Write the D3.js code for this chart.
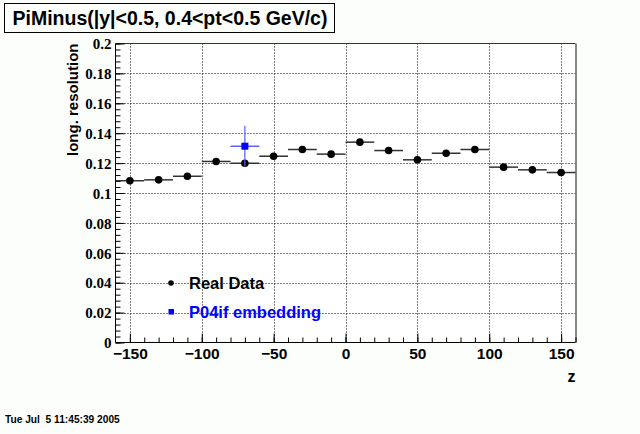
<!DOCTYPE html>
<html>
<head>
<meta charset="utf-8">
<script src="https://cdn.jsdelivr.net/npm/d3@7"></script>
<style>
  html, body { margin: 0; padding: 0; background: #fcfefc; }
  svg { display: block; }
</style>
</head>
<body>
<svg id="chart" width="640" height="434"></svg>
<script>
// ---- data ----
const zBins      = [-150, -130, -110, -90, -70, -50, -30, -10, 10, 30, 50, 70, 90, 110, 130, 150];
const realValues = [0.1082, 0.1088, 0.1112, 0.1211, 0.1199, 0.1246, 0.1291, 0.1260, 0.1340, 0.1284, 0.1222, 0.1266, 0.1291, 0.1173, 0.1155, 0.1137];
const realErrors = [0.0008, 0.0008, 0.0008, 0.0008, 0.0012, 0.0008, 0.0008, 0.0008, 0.0008, 0.0008, 0.0008, 0.0008, 0.0008, 0.0008, 0.0008, 0.0008];
const embZ       = [-70];
const embValues  = [0.1313];
const embErrors  = [0.0136];
const binHalfWidth = 10;
const xTickValues = [-150, -100, -50, 0, 50, 100, 150];
const yTickValues = [0, 0.02, 0.04, 0.06, 0.08, 0.1, 0.12, 0.14, 0.16, 0.18, 0.2];
const yTickLabels = ["0", "0.02", "0.04", "0.06", "0.08", "0.1", "0.12", "0.14", "0.16", "0.18", "0.2"];
const titleText = "PiMinus(|y|<0.5, 0.4<pt<0.5 GeV/c)";
const xTitle = "z";
const yTitle = "long. resolution";
const legendLabels = ["Real Data", "P04if embedding"];
const stampText = "Tue Jul  5 11:45:39 2005";

// ---- layout ----
const svg = d3.select("#chart");
const L = 115.5, R = 575.5, T = 43.5, B = 342.5;
const x = d3.scaleLinear().domain([-160, 160]).range([L, R]);
const y = d3.scaleLinear().domain([0, 0.2]).range([B, T]);
const SANS = "Liberation Sans, Arial, sans-serif";

svg.append("rect").attr("width", 640).attr("height", 434).attr("fill", "#fcfefc");
svg.append("rect").attr("x", L).attr("y", T).attr("width", R - L).attr("height", B - T).attr("fill", "#ffffff");

// grid
const grid = svg.append("g");
grid.selectAll("line.gx").data(xTickValues).enter().append("line")
  .attr("x1", d => Math.round(x(d)) + 0.5).attr("x2", d => Math.round(x(d)) + 0.5)
  .attr("y1", T).attr("y2", B)
  .attr("stroke", "#000").attr("stroke-width", 1).attr("stroke-dasharray", "1,2");
grid.selectAll("line.gy").data(yTickValues.filter(v => v > 0 && v < 0.2)).enter().append("line")
  .attr("y1", d => Math.round(y(d)) + 0.5).attr("y2", d => Math.round(y(d)) + 0.5)
  .attr("x1", L).attr("x2", R)
  .attr("stroke", "#000").attr("stroke-width", 1).attr("stroke-dasharray", "1,2");

// frame top and right
svg.append("line").attr("x1", L).attr("x2", R).attr("y1", T).attr("y2", T).attr("stroke", "#333").attr("stroke-width", 1);
svg.append("line").attr("x1", R + 0.5).attr("x2", R + 0.5).attr("y1", T).attr("y2", B).attr("stroke", "#888").attr("stroke-width", 2);

// x axis
const xMinor = d3.range(-150, 161, 10);
const gxm = svg.append("g").attr("transform", `translate(0,${B})`)
  .call(d3.axisTop(x).tickValues(xMinor).tickSize(5).tickFormat(""));
gxm.select(".domain").attr("d", `M${L},0H${R}`).attr("stroke", "#000");
gxm.selectAll(".tick line").attr("stroke", "#000");
const gx = svg.append("g").attr("transform", `translate(0,${B})`)
  .call(d3.axisTop(x).tickValues(xTickValues).tickSize(9).tickFormat(d3.format("d")));
gx.select(".domain").remove();
gx.selectAll(".tick line").attr("stroke", "#000");
gx.selectAll(".tick text")
  .attr("y", 5).attr("dy", "0.71em")
  .attr("font-family", SANS).attr("font-weight", "bold").attr("font-size", 15.5)
  .attr("fill", "#000").attr("text-anchor", "middle");

// y axis
const yMinor = d3.range(0, 0.2001, 0.004);
const gym = svg.append("g").attr("transform", `translate(${L},0)`)
  .call(d3.axisRight(y).tickValues(yMinor).tickSize(5).tickFormat(""));
gym.select(".domain").attr("d", `M0,${T}V${B}`).attr("stroke", "#000");
gym.selectAll(".tick line").attr("stroke", "#000");
const gy = svg.append("g").attr("transform", `translate(${L},0)`)
  .call(d3.axisRight(y).tickValues(yTickValues).tickSize(9).tickFormat((d, i) => yTickLabels[i]));
gy.select(".domain").remove();
gy.selectAll(".tick line").attr("stroke", "#000");
gy.selectAll(".tick text")
  .attr("x", -4).attr("text-anchor", "end").attr("dy", "0.35em")
  .attr("font-family", "Liberation Serif, Times New Roman, serif").attr("font-weight", "bold").attr("font-size", 15)
  .attr("fill", "#000");

// axis titles
svg.append("text").attr("x", R).attr("y", 382).attr("text-anchor", "end")
  .attr("font-family", SANS).attr("font-weight", "bold").attr("font-size", 16)
  .text(xTitle);
svg.append("text").attr("transform", `translate(78,${T}) rotate(-90)`).attr("text-anchor", "end")
  .attr("font-family", SANS).attr("font-weight", "bold").attr("font-size", 15)
  .text(yTitle);

// real data
const real = zBins.map((z, i) => ({ z, v: realValues[i], e: realErrors[i] }));
const gr = svg.append("g");
gr.selectAll("line.h").data(real).enter().append("line")
  .attr("x1", d => x(d.z - binHalfWidth)).attr("x2", d => x(d.z + binHalfWidth))
  .attr("y1", d => y(d.v)).attr("y2", d => y(d.v))
  .attr("stroke", "#333").attr("stroke-width", 1.5);
gr.selectAll("line.v").data(real).enter().append("line")
  .attr("x1", d => x(d.z)).attr("x2", d => x(d.z))
  .attr("y1", d => y(d.v - d.e)).attr("y2", d => y(d.v + d.e))
  .attr("stroke", "#000").attr("stroke-width", 1);
gr.selectAll("circle").data(real).enter().append("circle")
  .attr("cx", d => x(d.z)).attr("cy", d => y(d.v)).attr("r", 3.8).attr("fill", "#000");

// embedding
const emb = embZ.map((z, i) => ({ z, v: embValues[i], e: embErrors[i] }));
const ge = svg.append("g");
ge.selectAll("line.h").data(emb).enter().append("line")
  .attr("x1", d => x(d.z - binHalfWidth)).attr("x2", d => x(d.z + binHalfWidth))
  .attr("y1", d => y(d.v)).attr("y2", d => y(d.v))
  .attr("stroke", "#3a3aff").attr("stroke-width", 1.2);
ge.selectAll("line.v").data(emb).enter().append("line")
  .attr("x1", d => x(d.z)).attr("x2", d => x(d.z))
  .attr("y1", d => y(d.v - d.e)).attr("y2", d => y(d.v + d.e))
  .attr("stroke", "#5a5aff").attr("stroke-width", 1.2);
ge.selectAll("rect").data(emb).enter().append("rect")
  .attr("x", d => x(d.z) - 3.5).attr("y", d => y(d.v) - 3.5).attr("width", 7).attr("height", 7)
  .attr("fill", "#0000ff");

// legend
const lg = svg.append("g");
lg.append("circle").attr("cx", 171).attr("cy", 283).attr("r", 2.8).attr("fill", "#000");
lg.append("text").attr("x", 189).attr("y", 289)
  .attr("font-family", SANS).attr("font-weight", "bold").attr("font-size", 16.5)
  .attr("fill", "#000").text(legendLabels[0]);
lg.append("rect").attr("x", 168.5).attr("y", 309).attr("width", 5.5).attr("height", 5.5).attr("fill", "#0000ff");
lg.append("text").attr("x", 189).attr("y", 318)
  .attr("font-family", SANS).attr("font-weight", "bold").attr("font-size", 16.5)
  .attr("fill", "#0000ff").text(legendLabels[1]);

// title box
svg.append("rect").attr("x", 4.5).attr("y", 3.5).attr("width", 330).attr("height", 29)
  .attr("fill", "#fcfefc").attr("stroke", "#000").attr("stroke-width", 1);
svg.append("text").attr("x", 170).attr("y", 24.5).attr("text-anchor", "middle")
  .attr("font-family", SANS).attr("font-weight", "bold").attr("font-size", 19.5)
  .attr("fill", "#000").text(titleText);

// timestamp
svg.append("text").attr("x", 5).attr("y", 423)
  .style("white-space", "pre")
  .attr("font-family", SANS).attr("font-weight", "bold").attr("font-size", 10.2)
  .attr("fill", "#000").text(stampText);
</script>
</body>
</html>
